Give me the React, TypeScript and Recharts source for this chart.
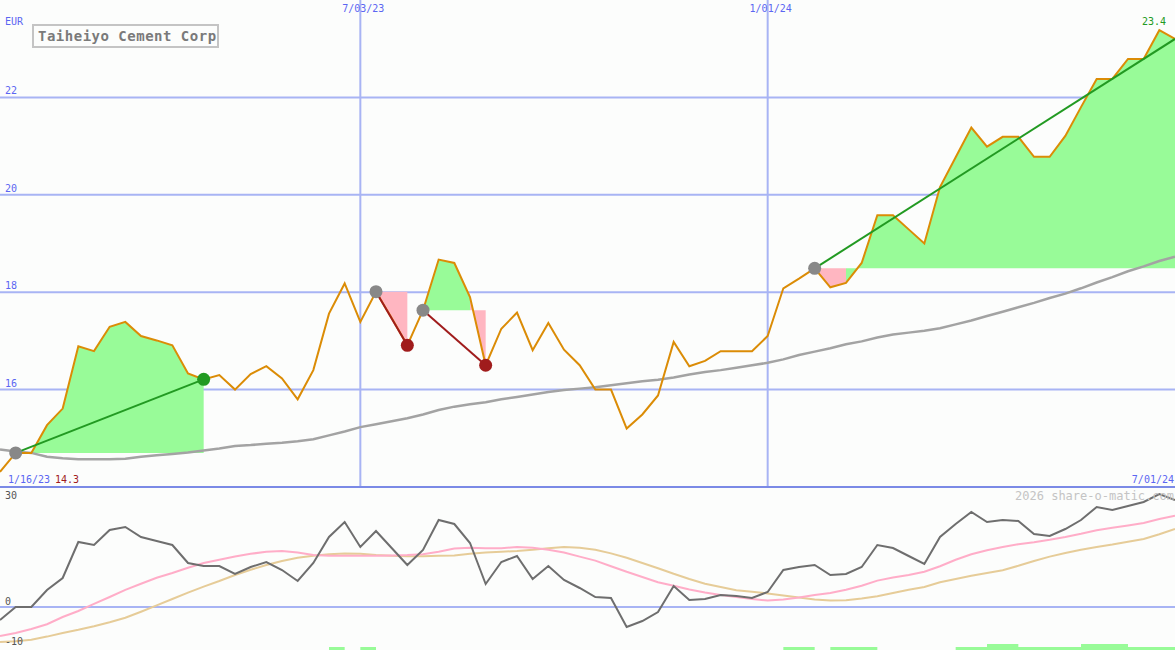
import { Area, CartesianGrid, ComposedChart, Line, ReferenceLine, Scatter, XAxis, YAxis } from 'recharts'

const W = 1175
const TOP_H = 487
const MONO = '"DejaVu Sans Mono", monospace'

const GRID = '#a8b4f4'
const SEP = '#7b8ae6'
const LABEL_BLUE = '#5b66f2'
const PRICE = '#db8c06'
const AVG = '#a3a3a3'
const UP = '#229a22'
const DOWN = '#a01c1c'
const DOT_START = '#888888'
const GREEN_FILL = '#98fb98'
const PINK_FILL = '#ffb6c1'
const MOM = '#6e6e6e'
const MOM_PINK = '#ffadc8'
const MOM_TAN = '#e6cc98'

// weekly closes, EUR
const price = [
  14.31, 14.7, 14.7, 15.27, 15.61, 16.89, 16.79, 17.29, 17.39, 17.1,
  17.01, 16.91, 16.33, 16.21, 16.3, 16.0, 16.32, 16.48, 16.23, 15.8,
  16.4, 17.56, 18.18, 17.39, 18.01, 17.47, 16.91, 17.63, 18.67, 18.6,
  17.9, 16.5, 17.25, 17.58, 16.81, 17.37, 16.82, 16.5, 16.0, 16.0,
  15.2, 15.49, 15.88, 16.98, 16.48, 16.59, 16.79, 16.79, 16.79, 17.1,
  18.08, 18.28, 18.49, 18.1, 18.19, 18.6, 19.58, 19.58, 19.29, 19.0,
  20.16, 20.77, 21.38, 20.99, 21.19, 21.19, 20.78, 20.78, 21.21, 21.8,
  22.38, 22.38, 22.79, 22.79, 23.38, 23.2,
]

// long moving average
const avg = [
  14.77, 14.73, 14.7, 14.62, 14.59, 14.57, 14.57, 14.57, 14.58, 14.62,
  14.65, 14.68, 14.71, 14.75, 14.79, 14.84, 14.86, 14.89, 14.91, 14.94,
  14.98, 15.06, 15.14, 15.23, 15.29, 15.35, 15.41, 15.49, 15.58, 15.65,
  15.7, 15.74, 15.8, 15.85, 15.9, 15.95, 15.99, 16.02, 16.05, 16.09,
  16.13, 16.17, 16.2, 16.25, 16.31, 16.36, 16.4, 16.45, 16.5, 16.55,
  16.62, 16.71, 16.78, 16.85, 16.93, 16.99, 17.07, 17.13, 17.17, 17.21,
  17.26, 17.34, 17.42, 17.51, 17.6, 17.69, 17.78, 17.88, 17.97, 18.08,
  18.2, 18.31, 18.43, 18.53, 18.64, 18.73,
]

// lower panel
const momentum = [
  -3.25, 0, 0, 4.25, 7.25, 16.25, 15.5, 19.25, 20, 17.5,
  16.5, 15.5, 11, 10.25, 10.25, 8.25, 10, 11.25, 9.25, 6.5,
  11, 17.5, 21.25, 15, 19, 14.75, 10.5, 14.25, 21.75, 20.75,
  16, 5.75, 11.25, 12.75, 7, 10.25, 6.75, 4.75, 2.5, 2.25,
  -5, -3.5, -1.25, 5.25, 1.75, 2, 3, 2.75, 2.25, 3.75,
  9.25, 10, 10.5, 8, 8.25, 10, 15.5, 14.75, 12.75, 10.75,
  17.5, 20.75, 23.75, 21.25, 21.75, 21.5, 18.25, 17.75, 19.5, 21.75,
  25, 24.25, 25.25, 26.25, 28.25, 26.75,
]

const momFast = [
  -7.25, -6.5, -5.5, -4.3, -2.5, -1.0, 0.8, 2.5, 4.3, 5.8,
  7.3, 8.5, 9.8, 11.0, 11.8, 12.6, 13.3, 13.8, 14.0, 13.6,
  13.0, 12.8, 12.8, 12.8, 12.8, 12.9, 13.0, 13.2, 13.8, 14.6,
  14.8, 14.7, 14.7, 15.0, 14.8, 14.3, 13.6, 12.6, 11.6, 10.2,
  8.8, 7.5, 6.2, 5.3, 4.4, 3.6, 3.0, 2.5, 2.0, 1.6,
  1.9, 2.4, 3.0, 3.5, 4.3, 5.3, 6.6, 7.4, 8.0, 8.8,
  10.2, 11.8, 13.2, 14.2, 15.0, 15.7, 16.2, 16.8, 17.5, 18.3,
  19.2, 19.8, 20.4, 21.0, 22.0, 22.8,
]

const momSlow = [
  -8.75, -8.55, -8.2, -7.4, -6.5, -5.7, -4.8, -3.8, -2.7, -1.2,
  0.4, 2.0, 3.6, 5.1, 6.5, 8.0, 9.3, 10.5, 11.5, 12.3,
  12.8, 13.2, 13.4, 13.3, 13.0, 12.8, 12.7, 12.7, 12.8, 12.9,
  13.3, 13.6, 13.8, 14.0, 14.3, 14.7, 15.0, 14.8, 14.3, 13.4,
  12.3, 11.0, 9.7, 8.3, 7.0, 5.8, 5.0, 4.2, 3.8, 3.4,
  2.9, 2.4, 1.9, 1.6, 1.7, 2.1, 2.7, 3.5, 4.3, 5.0,
  6.2, 7.0, 7.8, 8.5, 9.2, 10.3, 11.5, 12.6, 13.5, 14.3,
  15.0, 15.6, 16.3, 17.0, 18.2, 19.5,
]

// signal strip at the bottom (px)
const strip = [
  0, 0, 0, 0, 0, 0, 0, 0, 0, 0,
  0, 0, 0, 0, 0, 0, 0, 0, 0, 0,
  0, 3, 0, 3, 0, 0, 0, 0, 0, 0,
  0, 0, 0, 0, 0, 0, 0, 0, 0, 0,
  0, 0, 0, 0, 0, 0, 0, 0, 0, 0,
  3, 3, 0, 3, 3, 3, 0, 0, 0, 0,
  0, 3, 3, 6, 6, 3, 3, 3, 3, 6,
  6, 6, 3, 3, 3, 3,
]

const trends = [
  { from: 1, to: 13, dir: 'up', open: false },
  { from: 24, to: 26, dir: 'down', open: false },
  { from: 27, to: 31, dir: 'down', open: false },
  { from: 52, to: 75, dir: 'up', open: true },
]

const priceTicks = [16, 18, 20, 22]
const lowerTicks = [30, 0, -10]
const dateLines = [
  { i: 23, label: '7/03/23' },
  { i: 49, label: '1/01/24' },
]
const rangeStart = '1/16/23'
const rangeEnd = '7/01/24'
const title = 'Taiheiyo Cement Corp'
const currency = 'EUR'

const LAST = price.length - 1

const topRows: Record<string, unknown>[] = price.map((p, i) => ({ i, price: p, avg: avg[i] }))
trends.forEach((t, k) => {
  const base = price[t.from]
  topRows[t.from][`t${k}`] = base
  topRows[t.to][`t${k}`] = price[t.to]
  for (let j = t.from + 1; j <= t.to; j++) {
    const key = price[j] >= base ? `g${k}` : `r${k}`
    topRows[j - 1][key] = [base, price[j - 1]]
    topRows[j][key] = [base, price[j]]
  }
})

const markers = trends.flatMap((t) => {
  const list = [{ i: t.from, v: price[t.from], color: DOT_START }]
  if (!t.open) list.push({ i: t.to, v: price[t.to], color: t.dir === 'up' ? UP : DOWN })
  return list
})

const lowerRows = momentum.map((m, i) => ({ i, mom: m, fast: momFast[i], slow: momSlow[i], strip: strip[i] }))

const maxPrice = Math.max(...price)

function PriceTick(props: any) {
  return (
    <text x={5} y={props.y - 3} fill={LABEL_BLUE} fontSize={10} fontFamily={MONO}>
      {props.payload.value}
    </text>
  )
}

function DateTick(props: any) {
  const d = dateLines.find((x) => x.i === props.payload.value)
  return (
    <text x={props.x + 3} y={12} textAnchor="middle" fill={LABEL_BLUE} fontSize={10} fontFamily={MONO}>
      {d ? d.label : ''}
    </text>
  )
}

function LowerTick(props: any) {
  const v = props.payload.value
  return (
    <text x={5} y={v === 30 ? props.y + 12 : props.y - 2} fill="#555" fontSize={10} fontFamily={MONO}>
      {v}
    </text>
  )
}

export default function App() {
  return (
    <div style={{ position: 'absolute', left: 0, top: 0, width: W, height: 650, background: '#fcfdfc', overflow: 'hidden' }}>
      <div style={{ position: 'absolute', left: 0, top: 0 }}>
        <ComposedChart width={W} height={TOP_H} data={topRows} margin={{ top: 0, right: 0, bottom: 0, left: 0 }}>
          <CartesianGrid stroke={GRID} strokeWidth={2} syncWithTicks />
          <XAxis
            dataKey="i"
            type="number"
            domain={[0, LAST]}
            ticks={dateLines.map((d) => d.i)}
            interval={0}
            orientation="top"
            mirror
            axisLine={false}
            tickLine={false}
            tick={DateTick}
          />
          <YAxis
            type="number"
            domain={[14, 24]}
            ticks={priceTicks}
            interval={0}
            mirror
            axisLine={false}
            tickLine={false}
            tick={PriceTick}
          />
          {trends.map((t, k) => (
            <Area key={`g${k}`} dataKey={`g${k}`} stroke="none" fill={GREEN_FILL} fillOpacity={1} isAnimationActive={false} dot={false} activeDot={false} />
          ))}
          {trends.map((t, k) => (
            <Area key={`r${k}`} dataKey={`r${k}`} stroke="none" fill={PINK_FILL} fillOpacity={1} isAnimationActive={false} dot={false} activeDot={false} />
          ))}
          <Line dataKey="avg" stroke={AVG} strokeWidth={2.5} dot={false} activeDot={false} isAnimationActive={false} />
          <Scatter
            data={markers}
            dataKey="v"
            isAnimationActive={false}
            shape={(p: any) => <circle cx={p.cx} cy={p.cy} r={6.5} fill={p.payload.color} />}
          />
          <Line dataKey="price" stroke={PRICE} strokeWidth={2} dot={false} activeDot={false} isAnimationActive={false} />
          {trends.map((t, k) => (
            <Line
              key={`t${k}`}
              dataKey={`t${k}`}
              connectNulls
              stroke={t.dir === 'up' ? UP : DOWN}
              strokeWidth={2}
              dot={false}
              activeDot={false}
              isAnimationActive={false}
            />
          ))}
        </ComposedChart>
      </div>
      <div style={{ position: 'absolute', left: 0, top: 480 }}>
        <ComposedChart width={W} height={170} data={lowerRows} margin={{ top: 7, right: 0, bottom: 0, left: 0 }}>
          <CartesianGrid stroke={GRID} strokeWidth={2} horizontal={false} syncWithTicks />
          <XAxis
            dataKey="i"
            type="number"
            domain={[0, LAST]}
            ticks={dateLines.map((d) => d.i)}
            interval={0}
            mirror
            axisLine={false}
            tickLine={false}
            tick={false}
          />
          <YAxis
            type="number"
            domain={[-10.75, 30]}
            ticks={lowerTicks}
            interval={0}
            mirror
            axisLine={false}
            tickLine={false}
            tick={LowerTick}
          />
          <YAxis yAxisId="v" type="number" domain={[0, 163]} hide />
          <ReferenceLine y={0} stroke={GRID} strokeWidth={2} />
          <ReferenceLine y={30} stroke={SEP} strokeWidth={2} />
          <Area yAxisId="v" dataKey="strip" type="stepAfter" stroke="none" fill={GREEN_FILL} fillOpacity={1} isAnimationActive={false} dot={false} activeDot={false} />
          <Line dataKey="slow" stroke={MOM_TAN} strokeWidth={2} dot={false} activeDot={false} isAnimationActive={false} />
          <Line dataKey="fast" stroke={MOM_PINK} strokeWidth={2} dot={false} activeDot={false} isAnimationActive={false} />
          <Line dataKey="mom" stroke={MOM} strokeWidth={2} dot={false} activeDot={false} isAnimationActive={false} />
        </ComposedChart>
      </div>
      <svg width={W} height={650} style={{ position: 'absolute', left: 0, top: 0, pointerEvents: 'none' }}>
        <text x={5} y={25} fill={LABEL_BLUE} fontSize={10} fontFamily={MONO}>{currency}</text>
        <rect x={33} y={25} width={185} height={22} fill="#fcfdfc" stroke="#c4c4c4" strokeWidth={2} />
        <text x={38} y={41} fill="#7a7a7a" fontSize={14} fontWeight="bold" letterSpacing={0.5} fontFamily={MONO}>{title}</text>
        <text x={1166} y={25} textAnchor="end" fill={UP} fontSize={10} fontFamily={MONO}>{maxPrice.toFixed(1)}</text>
        <text x={8} y={483} fill={LABEL_BLUE} fontSize={10} fontFamily={MONO}>{rangeStart}</text>
        <text x={55} y={483} fill={DOWN} fontSize={10} fontFamily={MONO}>{price[0].toFixed(1)}</text>
        <text x={1174} y={483} textAnchor="end" fill={LABEL_BLUE} fontSize={10} fontFamily={MONO}>{rangeEnd}</text>
        <text x={1174} y={500} textAnchor="end" fill="#c4c4c4" fontSize={12} fontFamily={MONO}>2026 share-o-matic.com</text>
      </svg>
    </div>
  )
}
